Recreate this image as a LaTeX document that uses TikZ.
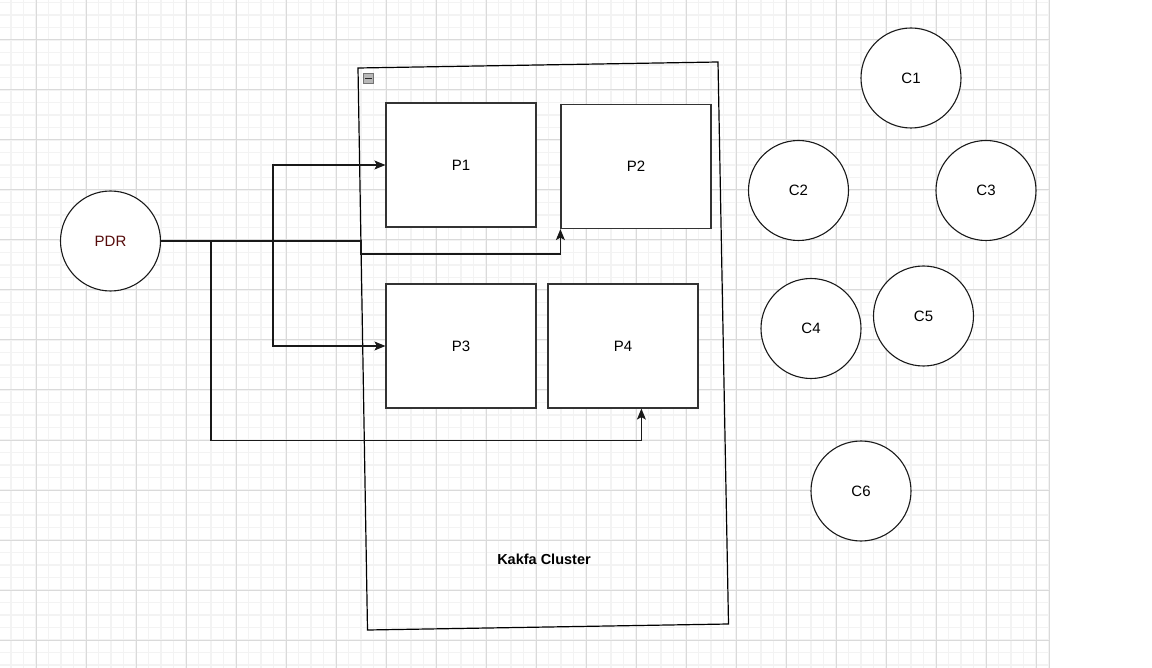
\documentclass[tikz,border=0pt]{standalone}
\usepackage{fontspec}
\setmainfont{Liberation Sans}
\usetikzlibrary{arrows.meta,calc}
\definecolor{minorgrid}{RGB}{243,243,243}
\definecolor{majorgrid}{RGB}{218,218,218}
\definecolor{pdrred}{RGB}{85,10,10}
\tikzset{
  minorline/.style={draw=minorgrid,line width=1.4pt},
  majorline/.style={draw=majorgrid,line width=1pt},
  partbox/.style={draw=black!80,line width=1.2pt,fill=white,minimum width=150pt,minimum height=124pt,inner sep=0pt,font=\fontsize{15}{18}\selectfont},
  consumer/.style={circle,draw=black!90,line width=1.1pt,fill=white,minimum size=100pt,inner sep=0pt,font=\fontsize{15}{18}\selectfont},
  conn/.style={draw=black!90,line width=1.1pt},
  arr/.style={conn,-{Stealth[length=11pt,width=9pt,inset=2.5pt]}},
}
\begin{document}
\begin{tikzpicture}[x=1pt,y=-1pt]
\useasboundingbox (0,0) rectangle (1152,668);
\fill[white] (0,0) rectangle (1152,668);
% grid
\foreach \i in {0,...,84} { \draw[minorline] ({-1.5+12.5*\i},0) -- ++(0,668); }
\foreach \j in {0,...,53} { \draw[minorline] (0,{2.5+12.5*\j}) -- (1049,{2.5+12.5*\j}); }
\foreach \k in {0,...,20} { \draw[majorline] ({36+50*\k},0) -- ++(0,668); }
\foreach \k in {0,...,12} { \draw[majorline] (0,{40+50*\k}) -- (1049,{40+50*\k}); }
\draw[draw=majorgrid,line width=1.5pt] (1049.5,0) -- (1049.5,668);

% cluster container
\coordinate (ctl) at (358,68);
\coordinate (ctr) at (718,62);
\coordinate (cbr) at (728.5,624);
\coordinate (cbl) at (367.5,630);
\draw[black,line width=1.2pt] (ctl) -- (ctr) -- (cbr) -- (cbl) -- cycle;
\node[draw=black!55,fill=black!28,minimum size=10pt,inner sep=0pt] (fold) at (368.5,78.5) {};
\draw[black!85,line width=1.2pt] ($(fold.center)+(-3.2,0)$) -- ($(fold.center)+(3.2,0)$);
\node[font=\bfseries\fontsize{14.5}{17}\selectfont] (title) at (544,559.5) {Kakfa Cluster};

% partitions
\node[partbox] (P1) at (461,165) {P1};
\node[partbox] (P2) at (636,166.5) {P2};
\node[partbox] (P3) at (461,346) {P3};
\node[partbox] (P4) at (623,346) {P4};

% producer and consumers
\node[consumer,text=pdrred] (PDR) at (110.5,241) {PDR};
\node[consumer] (C1) at (911,78) {C1};
\node[consumer] (C2) at (798.5,190.5) {C2};
\node[consumer] (C3) at (986,190.5) {C3};
\node[consumer] (C4) at (811,328.5) {C4};
\node[consumer] (C5) at (923.5,316) {C5};
\node[consumer] (C6) at (861,491) {C6};

% connectors
\coordinate (p4in) at ($(P4.south west)+(94,0)$);
\draw[arr] (PDR.east) -- (273,241) |- (P1.west);
\draw[arr] (PDR.east) -- (273,241) |- (P3.west);
\draw[arr] (PDR.east) -- (361,241) -- (361,254) -| (P2.south west);
\draw[arr] (PDR.east) -- (211,241) -- (211,440.5) -| (p4in);
\end{tikzpicture}
\end{document}
